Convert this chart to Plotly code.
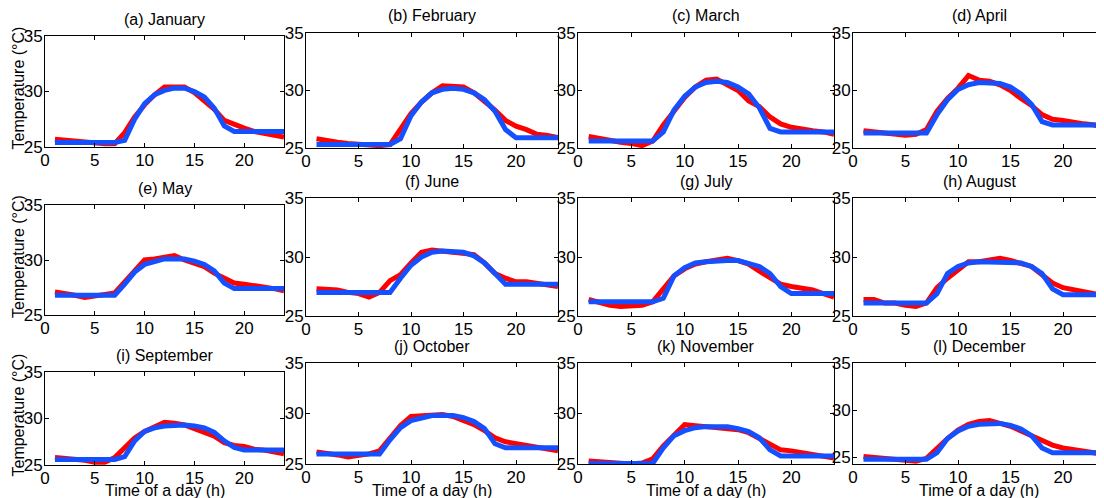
import plotly.graph_objects as go

hours = list(range(1, 25))
titles = ["(a) January", "(b) February", "(c) March", "(d) April",
          "(e) May", "(f) June", "(g) July", "(h) August",
          "(i) September", "(j) October", "(k) November", "(l) December"]

red_jan = [25.7, 25.6, 25.5, 25.4, 25.3, 25.3, 25.3, 26.3, 27.7, 28.8, 29.7, 30.4, 30.4, 30.4, 29.9, 29.2, 28.4, 27.4, 27.0, 26.7, 26.4, 26.2, 26.0, 25.9]
blue_jan = [25.4, 25.4, 25.4, 25.4, 25.4, 25.4, 25.4, 25.6, 27.5, 28.9, 29.7, 30.1, 30.3, 30.3, 30.0, 29.5, 28.5, 26.9, 26.4, 26.4, 26.4, 26.4, 26.4, 26.4]
red_feb = [25.8, 25.6, 25.5, 25.4, 25.3, 25.2, 25.2, 25.3, 26.7, 28.0, 29.0, 29.8, 30.4, 30.4, 30.3, 29.8, 29.1, 28.3, 27.4, 26.9, 26.6, 26.2, 26.1, 25.9]
blue_feb = [25.3, 25.3, 25.3, 25.3, 25.3, 25.3, 25.3, 25.3, 25.8, 27.8, 29.0, 29.8, 30.1, 30.2, 30.1, 29.8, 29.2, 28.2, 26.6, 25.9, 25.9, 25.9, 25.9, 25.9]
red_mar = [26.0, 25.8, 25.6, 25.5, 25.4, 25.2, 25.6, 27.0, 28.2, 29.4, 30.3, 30.9, 31.0, 30.5, 30.0, 29.1, 28.6, 27.7, 27.1, 26.8, 26.6, 26.5, 26.4, 26.2]
blue_mar = [25.6, 25.6, 25.6, 25.6, 25.6, 25.6, 25.6, 26.4, 28.3, 29.5, 30.3, 30.7, 30.8, 30.7, 30.3, 29.7, 28.5, 26.7, 26.4, 26.4, 26.4, 26.4, 26.4, 26.4]
red_apr = [26.5, 26.4, 26.3, 26.1, 26.1, 26.2, 26.6, 28.2, 29.3, 30.2, 31.3, 30.9, 30.8, 30.5, 30.0, 29.3, 28.7, 27.9, 27.5, 27.4, 27.2, 27.1, 27.0, 26.7]
blue_apr = [26.3, 26.3, 26.3, 26.3, 26.3, 26.3, 26.3, 27.9, 29.2, 30.1, 30.5, 30.7, 30.7, 30.6, 30.3, 29.7, 28.8, 27.3, 27.0, 27.0, 27.0, 27.0, 27.0, 27.0]
red_may = [27.1, 27.0, 26.8, 26.6, 26.7, 26.8, 27.0, 28.0, 29.0, 30.0, 30.1, 30.3, 30.4, 30.0, 29.7, 29.4, 28.8, 28.4, 27.9, 27.8, 27.7, 27.5, 27.4, 27.2]
blue_may = [26.8, 26.8, 26.8, 26.8, 26.8, 26.8, 26.8, 27.8, 28.9, 29.6, 29.9, 30.1, 30.1, 30.1, 29.9, 29.6, 29.0, 27.9, 27.4, 27.4, 27.4, 27.4, 27.4, 27.4]
red_jun = [27.3, 27.3, 27.2, 27.0, 26.9, 26.6, 27.0, 28.0, 28.5, 29.5, 30.4, 30.6, 30.5, 30.5, 30.4, 30.2, 29.5, 28.6, 28.2, 27.9, 27.9, 27.8, 27.7, 27.5]
blue_jun = [27.0, 27.0, 27.0, 27.0, 27.0, 27.0, 27.0, 27.0, 28.2, 29.3, 30.0, 30.4, 30.5, 30.5, 30.4, 30.1, 29.5, 28.6, 27.7, 27.7, 27.7, 27.7, 27.7, 27.7]
red_jul = [26.4, 26.1, 25.9, 25.8, 25.8, 25.9, 26.2, 27.3, 28.4, 29.0, 29.4, 29.6, 29.7, 29.9, 29.7, 29.4, 28.8, 28.2, 27.7, 27.5, 27.4, 27.2, 26.9, 26.6]
blue_jul = [26.2, 26.2, 26.2, 26.2, 26.2, 26.2, 26.2, 26.5, 28.4, 29.1, 29.5, 29.6, 29.7, 29.7, 29.7, 29.5, 29.2, 28.6, 27.5, 26.9, 26.9, 26.9, 26.9, 26.9]
red_aug = [26.4, 26.4, 26.1, 26.1, 25.9, 25.8, 26.1, 27.4, 28.2, 28.9, 29.6, 29.6, 29.7, 29.9, 29.7, 29.5, 29.2, 28.5, 27.8, 27.4, 27.2, 27.1, 26.9, 26.7]
blue_aug = [26.1, 26.1, 26.1, 26.1, 26.1, 26.1, 26.1, 26.9, 28.6, 29.2, 29.5, 29.6, 29.6, 29.6, 29.6, 29.5, 29.2, 28.6, 27.3, 26.8, 26.8, 26.8, 26.8, 26.8]
red_sep = [25.8, 25.7, 25.7, 25.5, 25.3, 25.3, 25.8, 26.9, 27.9, 28.6, 29.1, 29.6, 29.5, 29.3, 28.9, 28.5, 28.1, 27.4, 27.1, 27.0, 26.7, 26.6, 26.4, 26.2]
blue_sep = [25.6, 25.6, 25.6, 25.6, 25.6, 25.6, 25.6, 25.9, 27.6, 28.6, 29.0, 29.2, 29.3, 29.3, 29.2, 29.0, 28.5, 27.6, 26.9, 26.6, 26.6, 26.6, 26.6, 26.6]
red_oct = [26.2, 26.1, 25.9, 25.7, 25.8, 26.0, 26.3, 27.6, 28.8, 29.7, 29.8, 29.8, 29.9, 29.7, 29.3, 28.9, 28.3, 27.6, 27.2, 27.0, 26.8, 26.6, 26.4, 26.3]
blue_oct = [26.0, 26.0, 26.0, 26.0, 26.0, 26.0, 26.0, 27.4, 28.6, 29.3, 29.6, 29.8, 29.8, 29.8, 29.6, 29.2, 28.5, 27.0, 26.6, 26.6, 26.6, 26.6, 26.6, 26.6]
red_nov = [25.3, 25.2, 25.1, 25.0, 25.0, 25.1, 25.5, 26.8, 27.9, 28.9, 28.8, 28.7, 28.7, 28.6, 28.4, 28.1, 27.5, 26.9, 26.4, 26.3, 26.1, 25.9, 25.7, 25.6]
blue_nov = [25.05, 25.05, 25.05, 25.05, 25.05, 25.05, 25.05, 26.6, 27.8, 28.3, 28.6, 28.7, 28.7, 28.7, 28.5, 28.2, 27.6, 26.4, 25.8, 25.8, 25.8, 25.8, 25.8, 25.8]
red_dec = [25.1, 25.0, 24.9, 24.8, 24.7, 24.6, 24.9, 26.0, 27.0, 27.9, 28.5, 28.8, 28.9, 28.6, 28.3, 27.8, 27.3, 26.7, 26.3, 26.0, 25.8, 25.6, 25.4, 25.3]
blue_dec = [24.8, 24.8, 24.8, 24.8, 24.8, 24.8, 24.8, 25.5, 27.0, 27.8, 28.3, 28.5, 28.6, 28.6, 28.4, 28.0, 27.3, 26.0, 25.5, 25.5, 25.5, 25.5, 25.5, 25.5]

red_series = [red_jan, red_feb, red_mar, red_apr, red_may, red_jun,
              red_jul, red_aug, red_sep, red_oct, red_nov, red_dec]
blue_series = [blue_jan, blue_feb, blue_mar, blue_apr, blue_may, blue_jun,
               blue_jul, blue_aug, blue_sep, blue_oct, blue_nov, blue_dec]
y_min = [25, 25, 25, 25, 25, 25, 25, 25, 25, 25, 25, 24.3]

W, H = 1104, 498
OFF = 8  # page body margin offset
col_px = [(45, 284), (306, 558), (578, 834), (853, 1105)]
row_px_first = [(36, 147), (205, 315), (372, 465)]
row_px_other = [(33, 148), (198, 316), (363, 464)]


def fx(px):
    return (px - OFF) / W


def fy(px):
    return 1 - (px - OFF) / H


RED = "#ff0000"
BLUE = "#1450ff"
FONT = "Liberation Sans, Arial, sans-serif"

fig = go.Figure()
layout = dict(width=W, height=H,
              margin=dict(l=0, r=0, t=0, b=0, pad=0, autoexpand=False),
              paper_bgcolor="white", plot_bgcolor="white", showlegend=False,
              font=dict(family=FONT, color="black"))
annotations = []

for i in range(12):
    r, c = divmod(i, 4)
    x0, x1 = col_px[c]
    top, bot = (row_px_first if c == 0 else row_px_other)[r]
    idx = "" if i == 0 else str(i + 1)
    xa, ya = "x" + idx, "y" + idx
    fig.add_trace(go.Scatter(x=hours, y=red_series[i], mode="lines",
                             line=dict(color=RED, width=5), xaxis=xa, yaxis=ya,
                             hoverinfo="skip"))
    fig.add_trace(go.Scatter(x=hours, y=blue_series[i], mode="lines",
                             line=dict(color=BLUE, width=5), xaxis=xa, yaxis=ya,
                             hoverinfo="skip"))
    common = dict(showline=True, linecolor="black", linewidth=1, mirror="ticks",
                  ticks="inside", ticklen=4, tickcolor="black", showgrid=False,
                  zeroline=False, automargin=False,
                  tickfont=dict(family=FONT, size=17, color="black"))
    layout["xaxis" + idx] = dict(domain=[fx(x0), min(fx(x1), 1.0)], range=[0, 24],
                                 tickvals=[0, 5, 10, 15, 20], anchor=ya,
                                 ticklabelstandoff=-2, **common)
    layout["yaxis" + idx] = dict(domain=[fy(bot), fy(top)], range=[y_min[i], 35],
                                 tickvals=[25, 30, 35], anchor=xa,
                                 ticklabelstandoff=-2, **common)
    annotations.append(dict(text=titles[i], x=fx((x0 + x1) / 2), y=fy(top - 17),
                            xref="paper", yref="paper", xanchor="center", yanchor="middle",
                            showarrow=False, font=dict(family=FONT, size=16)))
    if c == 0:
        annotations.append(dict(text="Temperature (°C)", x=fx(18), y=fy((top + bot) / 2 - 3),
                                xref="paper", yref="paper", xanchor="center", yanchor="middle",
                                textangle=-90, showarrow=False, font=dict(family=FONT, size=16)))
    if r == 2:
        annotations.append(dict(text="Time of a day (h)", x=fx((x0 + x1) / 2), y=fy(490),
                                xref="paper", yref="paper", xanchor="center", yanchor="middle",
                                showarrow=False, font=dict(family=FONT, size=16)))

layout["annotations"] = annotations
fig.update_layout(**layout)
fig.write_html("out.html")
